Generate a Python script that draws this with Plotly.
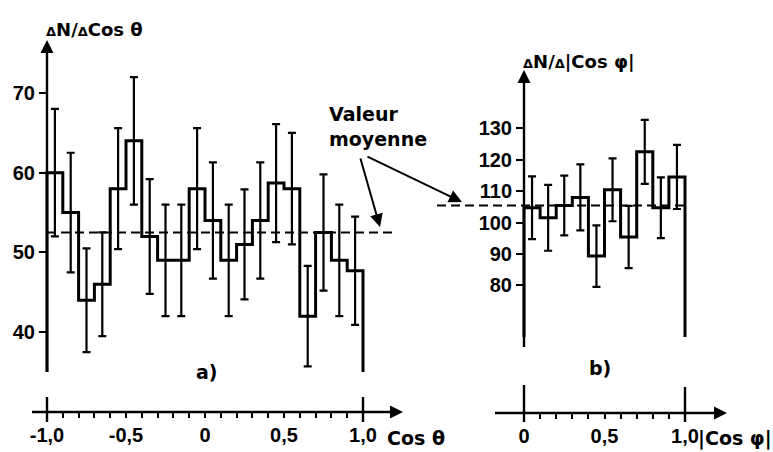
import plotly.graph_objects as go

# ---------------- data ----------------
edges_a = [-1.0, -0.9, -0.8, -0.7, -0.6, -0.5, -0.4, -0.3, -0.2, -0.1, 0.0,
           0.1, 0.2, 0.3, 0.4, 0.5, 0.6, 0.7, 0.8, 0.9, 1.0]
counts_a = [60, 55, 44, 46, 58, 64, 52, 49, 49, 58,
            54, 49, 51, 54, 58.7, 58, 42, 52.5, 49, 47.7]
errors_a = [8, 7.5, 6.5, 6.5, 7.6, 8, 7.2, 7, 7, 7.6,
            7.3, 7, 6.9, 7.3, 7.4, 7, 6.3, 7.3, 7, 6.8]
mean_a = 52.5

edges_b = [0.0, 0.1, 0.2, 0.3, 0.4, 0.5, 0.6, 0.7, 0.8, 0.9, 1.0]
counts_b = [104.7, 101.5, 105.4, 108, 89.3, 110.4, 95.4, 122.5, 104.7, 114.5]
errors_b = [10, 10.5, 9.5, 10.5, 9.8, 10, 9.9, 10.2, 9.7, 10.2]
mean_b = 105.4

yticks_a = [40, 50, 60, 70]
yticks_b = [80, 90, 100, 110, 120, 130]
xtickvals_a = [-1.0, -0.5, 0.0, 0.5, 1.0]
xticktext_a = ["-1,0", "-0,5", "0", "0,5", "1,0"]
xtickvals_b = [0.0, 0.5, 1.0]
xticktext_b = ["0", "0,5", "1,0"]
minor_a = [-0.9, -0.8, -0.7, -0.6, -0.4, -0.3, -0.2, -0.1,
           0.1, 0.2, 0.3, 0.4, 0.6, 0.7, 0.8, 0.9]
minor_b = [0.1, 0.2, 0.3, 0.4, 0.6, 0.7, 0.8, 0.9]

# ---------------- geometry (pixels) ----------------
W, H = 773, 452
TICKFONT = "Liberation Sans"
TEXTFONT = "DejaVu Sans"
# panel a mapping
AX0_PX, AX_PPU = 47, 158.0        # x=-1 at px 47
AY_REF, AY_PX, AY_PPU = 70, 93, 7.97
# panel b mapping
BX0_PX, BX_PPU = 524, 161.0       # x=0 at px 524
BY_REF, BY_PX, BY_PPU = 100, 222.5, 3.14
SPLIT = 0.54


def ax_val(px):
    return -1 + (px - AX0_PX) / AX_PPU


def ay_val(py):
    return AY_REF - (py - AY_PX) / AY_PPU


def bx_val(px):
    return (px - BX0_PX) / BX_PPU


def by_val(py):
    return BY_REF - (py - BY_PX) / BY_PPU


def bold(labels):
    return ["<b>%s</b>" % s for s in labels]


BASE_A = ay_val(372)
TOP_A = ay_val(40)
XAXIS_A = ay_val(412)
BASE_B = by_val(337)
YBOT_B = by_val(347)
TOP_B = by_val(70)
XAXIS_B = by_val(413)

LW = 3
fig = go.Figure()


def step_xy(edges, counts, base):
    xs = [edges[0]] + edges[:-1] + [edges[-1]]
    ys = [base] + counts + [base]
    return xs, ys


def centers(edges):
    return [(edges[i] + edges[i + 1]) / 2 for i in range(len(edges) - 1)]


axl = dict(color="black", width=2.4)

# ---- panel a ----
xs, ys = step_xy(edges_a, counts_a, BASE_A)
fig.add_trace(go.Scatter(x=[edges_a[0], ax_val(397)], y=[mean_a, mean_a], mode="lines",
                         line=dict(color="black", width=2, dash="9px,5px"),
                         xaxis="x", yaxis="y"))
fig.add_trace(go.Scatter(x=xs, y=ys, mode="lines", line=dict(color="black", width=LW, shape="hv"),
                         xaxis="x", yaxis="y"))
fig.add_trace(go.Scatter(x=centers(edges_a), y=counts_a, mode="markers",
                         marker=dict(size=1, color="rgba(0,0,0,0)"),
                         error_y=dict(type="data", array=errors_a, width=4, thickness=2.2, color="black"),
                         xaxis="x", yaxis="y"))
fig.add_trace(go.Scatter(x=[edges_a[0], edges_a[0]], y=[BASE_A, TOP_A - 1], mode="lines", line=axl,
                         xaxis="x", yaxis="y"))
fig.add_trace(go.Scatter(x=[ax_val(32), ax_val(395)], y=[XAXIS_A, XAXIS_A], mode="lines", line=axl,
                         xaxis="x", yaxis="y"))
fig.add_trace(go.Scatter(x=[-1, -1, None, 1, 1], y=[ay_val(397), ay_val(422), None, ay_val(397), ay_val(422)],
                         mode="lines", line=axl, xaxis="x", yaxis="y"))

# ---- panel b ----
xs, ys = step_xy(edges_b, counts_b, BASE_B)
fig.add_trace(go.Scatter(x=[bx_val(437), edges_b[-1]], y=[mean_b, mean_b], mode="lines",
                         line=dict(color="black", width=2, dash="9px,5px"),
                         xaxis="x2", yaxis="y2"))
fig.add_trace(go.Scatter(x=xs, y=ys, mode="lines", line=dict(color="black", width=LW, shape="hv"),
                         xaxis="x2", yaxis="y2"))
fig.add_trace(go.Scatter(x=centers(edges_b), y=counts_b, mode="markers",
                         marker=dict(size=1, color="rgba(0,0,0,0)"),
                         error_y=dict(type="data", array=errors_b, width=4, thickness=2.2, color="black"),
                         xaxis="x2", yaxis="y2"))
fig.add_trace(go.Scatter(x=[0, 0], y=[YBOT_B, TOP_B - 1], mode="lines", line=axl,
                         xaxis="x2", yaxis="y2"))
fig.add_trace(go.Scatter(x=[bx_val(495), bx_val(719)], y=[XAXIS_B, XAXIS_B], mode="lines", line=axl,
                         xaxis="x2", yaxis="y2"))
fig.add_trace(go.Scatter(x=[0, 0, None, 1, 1], y=[by_val(385), by_val(422), None, by_val(387), by_val(422)],
                         mode="lines", line=axl, xaxis="x2", yaxis="y2"))

tickfont = dict(family=TICKFONT, size=20, color="black")
common = dict(showgrid=False, zeroline=False, showline=False, tickcolor="black", tickwidth=2,
              tickfont=tickfont, fixedrange=True)

fig.update_layout(
    width=W, height=H, margin=dict(l=0, r=0, t=0, b=0),
    paper_bgcolor="white", plot_bgcolor="white", showlegend=False,
    font=dict(family=TEXTFONT, color="black"),
    xaxis=dict(domain=[0, SPLIT], range=[ax_val(0), ax_val(SPLIT * W)], anchor="free",
               position=(H - 412) / H, tickmode="array", tickvals=xtickvals_a, ticktext=bold(xticktext_a),
               ticks="outside", ticklen=5,
               minor=dict(tickmode="array", tickvals=minor_a, ticks="outside", ticklen=5,
                          tickwidth=2, tickcolor="black"),
               **common),
    yaxis=dict(domain=[0, 1], range=[ay_val(H), ay_val(0)], anchor="free", position=AX0_PX / W,
               tickmode="array", tickvals=yticks_a, ticktext=bold([str(v) for v in yticks_a]),
               ticks="outside", ticklen=8, **common),
    xaxis2=dict(domain=[SPLIT, 1], range=[bx_val(SPLIT * W), bx_val(W)], anchor="free",
                position=(H - 413) / H, tickmode="array", tickvals=xtickvals_b, ticktext=bold(xticktext_b),
                ticks="outside", ticklen=5,
                minor=dict(tickmode="array", tickvals=minor_b, ticks="outside", ticklen=5,
                           tickwidth=2, tickcolor="black"),
                **common),
    yaxis2=dict(domain=[0, 1], range=[by_val(H), by_val(0)], anchor="free", position=BX0_PX / W,
                tickmode="array", tickvals=yticks_b, ticktext=bold([str(v) for v in yticks_b]),
                ticks="outside", ticklen=8, **common),
)

arrow = dict(text="", showarrow=True, arrowhead=2, arrowsize=1.3, arrowwidth=2, arrowcolor="black",
             axref="pixel", ayref="pixel")
annos = [
    dict(x=-1, y=TOP_A, xref="x", yref="y", ax=0, ay=24, **arrow),
    dict(x=ax_val(403), y=XAXIS_A, xref="x", yref="y", ax=-24, ay=0, **arrow),
    dict(x=0, y=TOP_B, xref="x2", yref="y2", ax=0, ay=24, **arrow),
    dict(x=bx_val(727), y=XAXIS_B, xref="x2", yref="y2", ax=-24, ay=0, **arrow),
    dict(x=ax_val(380), y=ay_val(227), xref="x", yref="y", ax=-20, ay=-70, **arrow),
    dict(x=bx_val(462), y=by_val(202), xref="x2", yref="y2", ax=-96, ay=-46, **arrow),
]
tf = dict(family=TEXTFONT, size=19, color="black", weight=700)
txt = dict(showarrow=False, xref="paper", yref="paper", font=tf)
annos += [
    dict(text="Valeur<br>moyenne", x=327 / W, y=(H - 126) / H, xanchor="left", yanchor="middle",
         align="left", **txt),
    dict(text="a)", x=207 / W, y=(H - 372) / H, xanchor="center", yanchor="middle", **txt),
    dict(text="b)", x=600 / W, y=(H - 368) / H, xanchor="center", yanchor="middle", **txt),
    dict(text="Cos θ", x=416 / W, y=(H - 438) / H, xanchor="center", yanchor="middle", **txt),
    dict(text="|Cos φ|", x=735 / W, y=(H - 438) / H, xanchor="center", yanchor="middle", **txt),
]
small = "<span style='font-size:13px'>Δ</span>"
lab = dict(showarrow=False, xref="paper", yref="paper",
           font=dict(family=TEXTFONT, size=18, color="black", weight=700),
           xanchor="left", yanchor="middle")
annos += [
    dict(text=small + "N/" + small + "Cos θ", x=44 / W, y=(H - 30) / H, **lab),
    dict(text=small + "N/" + small + "|Cos φ|", x=521 / W, y=(H - 62) / H, **lab),
]
fig.update_layout(annotations=annos)

fig.write_html("out.html")
